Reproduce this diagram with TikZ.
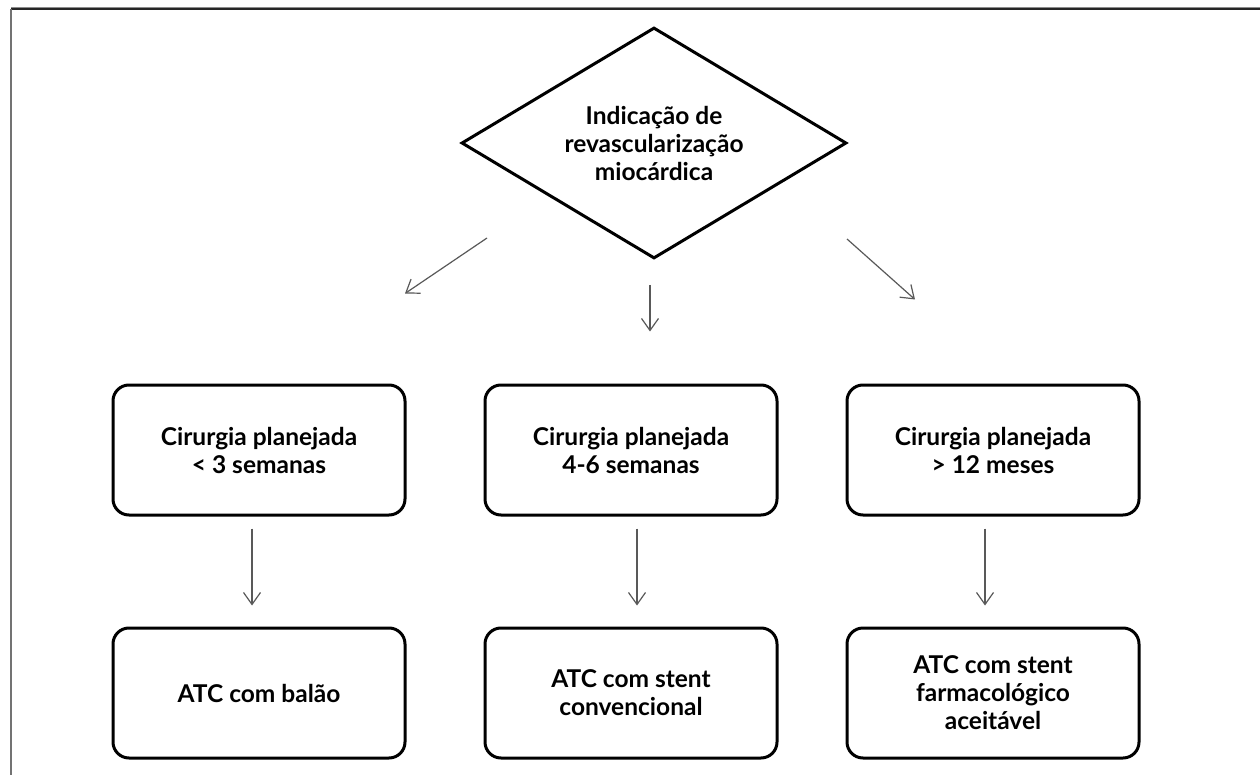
\documentclass[tikz,border=0pt]{standalone}
\usepackage{fontspec}
\setmainfont{Lato}
\usetikzlibrary{shapes.geometric,arrows.meta,calc}
\begin{document}
\begin{tikzpicture}[x=1pt,y=-1pt,
  txt/.style={align=center, font=\fontsize{24.5}{28}\selectfont\bfseries, inner sep=0pt},
  box/.style={txt, draw=black, line width=3pt, rounded corners=16pt,
    minimum width=292pt, minimum height=130pt},
  decision/.style={txt, draw=black, line width=3pt, diamond, aspect=1.667,
    minimum width=385pt, minimum height=231pt},
  arr/.style={draw=black!65, line width=1.2pt,
    -{Straight Barb[length=12pt,width=17pt,line width=1.2pt]}}]
\useasboundingbox (0,0) rectangle (1260,775);
\fill[white] (0,0) rectangle (1260,775);
% frame
\draw[black!45, line width=1pt] (11,7.5) -- (1260,7.5);
\draw[black!85, line width=1.5pt] (11,9) -- (1260,9);
\draw[black!55, line width=1.5pt] (11,9) -- (11,775);
% nodes
\node[decision] (d) at (654,143) {Indicação de\\revascularização\\miocárdica};
\node[box] (c1) at (259,450) {Cirurgia planejada\\< 3 semanas};
\node[box] (c2) at (631,450) {Cirurgia planejada\\4-6 semanas};
\node[box] (c3) at (993,450) {Cirurgia planejada\\> 12 meses};
\node[box] (a1) at (259,693) {ATC com balão};
\node[box] (a2) at (631,693) {ATC com stent\\convencional};
\node[box] (a3) at (993,693) {ATC com stent\\farmacológico\\aceitável};
% connectors
\draw[arr] ($(d.south)+(-167,-22)$) -- ($(c1.north)+(146,-90)$);
\draw[arr] ($(d.south)+(-4,25)$) -- ($(c2.north)+(19,-52)$);
\draw[arr] ($(d.south)+(193,-21)$) -- ($(c3.north)+(-78,-84)$);
\draw[arr] ($(c1.south)+(-7,12)$) -- ($(a1.north)+(-7,-21)$);
\draw[arr] ($(c2.south)+(6,12)$) -- ($(a2.north)+(6,-21)$);
\draw[arr] ($(c3.south)+(-8,12)$) -- ($(a3.north)+(-8,-21)$);
\end{tikzpicture}
\end{document}
